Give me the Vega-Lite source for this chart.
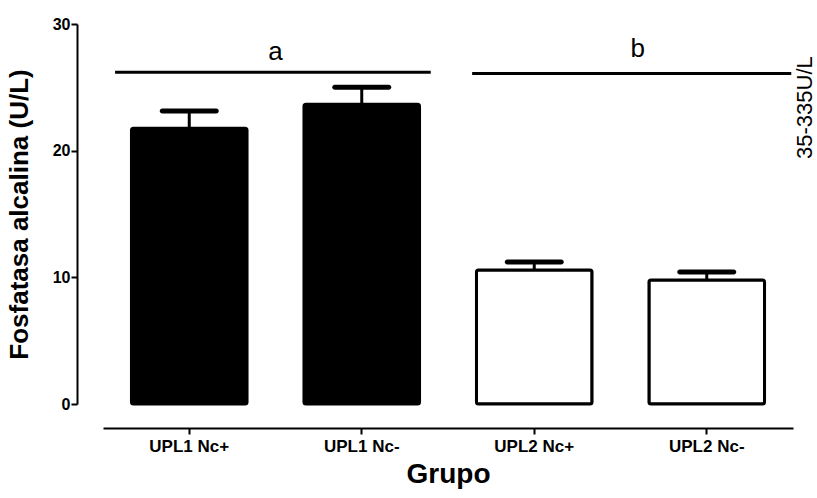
{
  "$schema": "https://vega.github.io/schema/vega-lite/v6.json",
  "width": 690,
  "height": 380,
  "autosize": {"type": "none"},
  "padding": {"left": 103, "top": 24, "right": 24, "bottom": 94},
  "background": "white",
  "config": {
    "view": {"stroke": null},
    "font": "Liberation Sans",
    "axis": {
      "grid": false,
      "domainColor": "black",
      "domainWidth": 2,
      "tickColor": "black",
      "tickWidth": 2,
      "tickSize": 6,
      "labelColor": "black",
      "labelFont": "Liberation Sans",
      "labelFontWeight": "bold",
      "titleColor": "black",
      "titleFont": "Liberation Sans",
      "titleFontWeight": "bold"
    }
  },
  "datasets": {
    "barras": [
      {"grupo": "UPL1 Nc+", "serie": "UPL1", "media": 21.77, "sup": 23.13},
      {"grupo": "UPL1 Nc-", "serie": "UPL1", "media": 23.66, "sup": 25.0},
      {"grupo": "UPL2 Nc+", "serie": "UPL2", "media": 10.58, "sup": 11.21},
      {"grupo": "UPL2 Nc-", "serie": "UPL2", "media": 9.79, "sup": 10.42}
    ],
    "lineas": [
      {"letra": "a", "inicio": 0.07, "fin": 1.9, "nivel": 26.2, "centro": 1.0, "texto_y": 27.8},
      {"letra": "b", "inicio": 2.14, "fin": 3.99, "nivel": 26.1, "centro": 3.1, "texto_y": 28.0}
    ],
    "nota": [
      {"texto": "35-335U/L", "px": 4.07, "py": 23.4}
    ]
  },
  "layer": [
    {
      "data": {"name": "barras"},
      "encoding": {
        "x": {
          "field": "grupo", "type": "nominal", "sort": null,
          "scale": {"paddingInner": 0.33, "paddingOuter": 0.165},
          "axis": {
            "title": "Grupo", "titleFontSize": 28, "titlePadding": 6,
            "labelAngle": 0, "labelFontSize": 17, "labelPadding": 4, "offset": 24
          }
        }
      },
      "layer": [
        {
          "mark": {"type": "bar", "stroke": "black", "strokeWidth": 3, "cornerRadius": 2},
          "encoding": {
            "y": {
              "field": "media", "type": "quantitative",
              "scale": {"domain": [0, 30], "nice": false},
              "axis": {
                "title": "Fosfatasa alcalina (U/L)", "titleFontSize": 26, "titlePadding": 20,
                "values": [0, 10, 20, 30], "labelFontSize": 16, "labelPadding": 1, "offset": 26
              }
            },
            "fill": {
              "field": "serie", "type": "nominal",
              "scale": {"domain": ["UPL1", "UPL2"], "range": ["black", "white"]},
              "legend": null
            }
          }
        },
        {
          "mark": {"type": "rule", "color": "black", "strokeWidth": 3},
          "encoding": {
            "y": {"field": "media", "type": "quantitative"},
            "y2": {"field": "sup"}
          }
        },
        {
          "mark": {"type": "tick", "orient": "horizontal", "color": "black", "size": 59, "thickness": 5, "cornerRadius": 2.5, "opacity": 1},
          "encoding": {
            "y": {"field": "sup", "type": "quantitative"}
          }
        }
      ]
    },
    {
      "data": {"name": "lineas"},
      "mark": {"type": "rule", "color": "black", "strokeWidth": 3},
      "encoding": {
        "x": {"field": "inicio", "type": "quantitative", "scale": {"domain": [0, 4], "nice": false, "zero": false}, "axis": null},
        "x2": {"field": "fin"},
        "y": {"field": "nivel", "type": "quantitative"}
      }
    },
    {
      "data": {"name": "lineas"},
      "mark": {"type": "text", "font": "Liberation Sans", "fontSize": 26, "color": "black", "align": "center", "baseline": "middle"},
      "encoding": {
        "x": {"field": "centro", "type": "quantitative", "scale": {"domain": [0, 4], "nice": false, "zero": false}, "axis": null},
        "y": {"field": "texto_y", "type": "quantitative"},
        "text": {"field": "letra"}
      }
    },
    {
      "data": {"name": "nota"},
      "mark": {"type": "text", "font": "Liberation Sans", "fontSize": 22, "color": "black", "angle": 270, "align": "center", "baseline": "middle"},
      "encoding": {
        "x": {"field": "px", "type": "quantitative", "scale": {"domain": [0, 4], "nice": false, "zero": false}, "axis": null},
        "y": {"field": "py", "type": "quantitative"},
        "text": {"field": "texto"}
      }
    }
  ],
  "resolve": {"scale": {"x": "independent"}, "axis": {"x": "independent"}}
}
